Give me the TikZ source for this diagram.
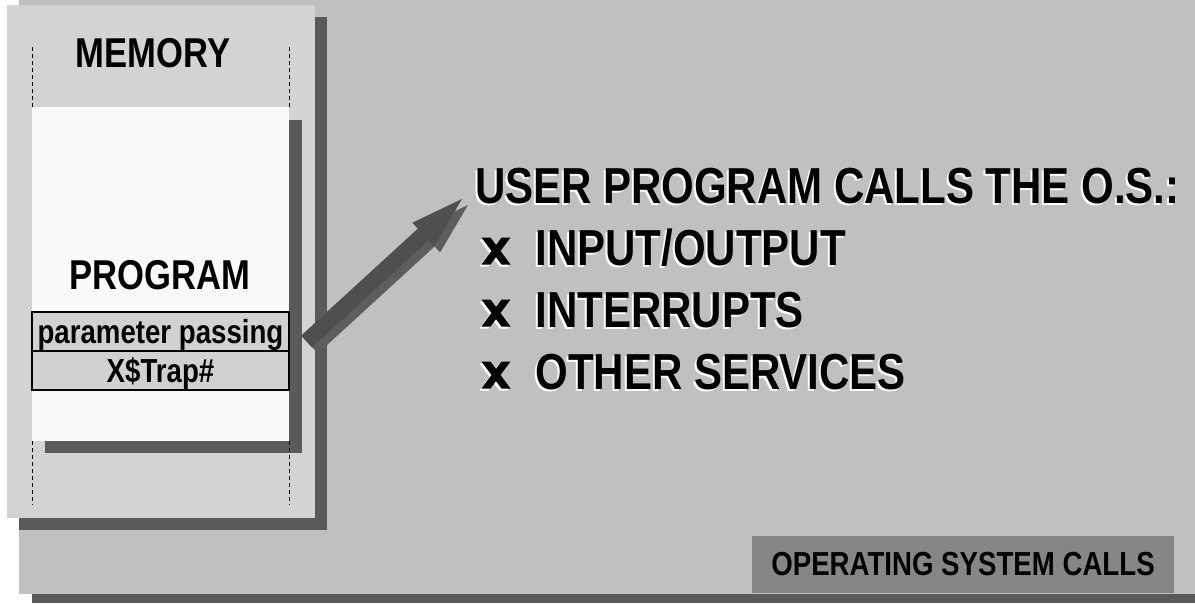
\documentclass[tikz,border=0pt]{standalone}
\usepackage{fontspec}
\setmainfont{Liberation Sans}
% narrow bold face for every label
\newfontfamily\narrow{Liberation Sans}[FakeStretch=0.83]
\usetikzlibrary{calc}

\definecolor{slidegray}{RGB}{192,192,192}
\definecolor{memgray}{RGB}{211,211,211}
\definecolor{shadowgray}{RGB}{90,90,90}
\definecolor{paper}{RGB}{250,250,250}
\definecolor{cellgray}{RGB}{209,209,209}
\definecolor{tabgray}{RGB}{134,134,134}
\definecolor{arrowface}{RGB}{79,79,79}
\definecolor{arrowside}{RGB}{93,93,93}

% text drawn twice: a white copy down-left, then the black one on top
\newcommand\raisedtext[3]{%
  \node[listitem,text=white] at ($#2+(-2,2)$) {#3};
  \node[listitem] (#1) at #2 {#3};}

\begin{document}
\begin{tikzpicture}[x=1pt,y=-1pt,
  panel/.style={inner sep=0pt, outer sep=0pt, anchor=north west},
  cell/.style={draw=black, line width=1.4pt, fill=cellgray,
    minimum width=257pt, minimum height=39pt,
    inner sep=0pt, outer sep=0pt, anchor=north west},
  headfont/.style={font=\narrow\bfseries\fontsize{41.7}{42}\selectfont},
  listfont/.style={font=\narrow\bfseries\fontsize{50.6}{51}\selectfont},
  smallfont/.style={font=\narrow\bfseries\fontsize{33.3}{34}\selectfont},
  lbl/.style={inner sep=0pt, outer sep=0pt, anchor=base},
  listitem/.style={listfont, inner sep=0pt, outer sep=0pt, anchor=base west},
  guide/.style={draw=black, line width=1.2pt, dash pattern=on 4pt off 3pt},
  pics/xmark/.style={code={
    \fill (-14.5,-13.5) -- (-5.5,-13.5) -- (0,-6.1) -- (5.5,-13.5)
      -- (14.5,-13.5) -- (4.5,0) -- (14.5,13.5) -- (5.5,13.5) -- (0,6.1)
      -- (-5.5,13.5) -- (-14.5,13.5) -- (-4.5,0) -- cycle;}}
]
\useasboundingbox (0,0) rectangle (1195,603);

% slide background with its shadow
\node[panel, fill=slidegray, minimum width=1176pt, minimum height=594pt] (slide) at (19,0) {};
\fill[shadowgray] (32,594) rectangle (1195,603);

% memory column
\node[panel, minimum width=308pt, minimum height=513pt] (mem) at (7,5) {};
\fill[shadowgray] ($(mem.north west)+(12,12)$) rectangle ($(mem.south east)+(12,12)$);
\fill[memgray] (mem.north west) rectangle (mem.south east);

% program area
\node[panel, minimum width=257pt, minimum height=334pt] (prog) at (32,107) {};
\fill[shadowgray] ($(prog.north west)+(13,13)$) rectangle ($(prog.south east)+(13,12)$);
\fill[paper] (prog.north west) rectangle (prog.south east);

% dashed bounds of the memory
\draw[guide] ($(prog.north west)+(0.5,0)$) -- ++(0,-62);
\draw[guide] ($(prog.north east)+(0.3,0)$) -- ++(0,-62);
\draw[guide] ($(prog.south west)+(0.5,0)$) -- ++(0,64);
\draw[guide] ($(prog.south east)+(0.3,0)$) -- ++(0,64);

% trap cells
\node[cell] (parm) at (32,312) {};
\node[cell] (trap) at (parm.south west) {};

\node[lbl, headfont] (memlbl) at (153,67.5) {MEMORY};
\node[lbl, headfont] (proglbl) at (160,289) {PROGRAM};
\node[lbl, smallfont] (parmtxt) at ($(parm.south)+(0,-8)$) {parameter passing};
\node[lbl, smallfont] (traptxt) at ($(trap.south)+(0,-7.5)$) {X\$Trap\#};

% list of services
\raisedtext{title}{(475,203)}{USER PROGRAM CALLS THE O.S.:}
\raisedtext{item1}{(535.5,265)}{INPUT/OUTPUT}
\raisedtext{item2}{(535.5,327)}{INTERRUPTS}
\raisedtext{item3}{(535.5,389)}{OTHER SERVICES}
\foreach \itm in {item1,item2,item3}{
  \pic[white] at ($(\itm.base west)+(-41.5,-12)$) {xmark};
  \pic at ($(\itm.base west)+(-39.5,-14)$) {xmark};
}

% block arrow from the trap cells to the list
\coordinate (atail) at ($(parm.south east)+(17.5,-9.5)$);
\coordinate (atip) at ($(title.base west)+(-13,-4)$);
\coordinate (atail2) at ($(atail)+(6,6)$);
\coordinate (atip2) at ($(atip)+(6,6)$);
\coordinate (ahead) at ($(atip)!52.6pt!(atail)$);
\coordinate (ahead2) at ($(atip2)!52.6pt!(atail2)$);
\fill[arrowside] ($(atail2)!8pt!90:(atip2)$) -- ($(ahead2)!8pt!90:(atip2)$)
  -- ($(ahead2)!16.1pt!90:(atip2)$) -- (atip2)
  -- ($(ahead2)!16.1pt!-90:(atip2)$) -- ($(ahead2)!8pt!-90:(atip2)$)
  -- ($(atail2)!8pt!-90:(atip2)$) -- cycle;
\fill[arrowface] ($(atail)!8pt!90:(atip)$) -- ($(ahead)!8pt!90:(atip)$)
  -- ($(ahead)!16.1pt!90:(atip)$) -- (atip)
  -- ($(ahead)!16.1pt!-90:(atip)$) -- ($(ahead)!8pt!-90:(atip)$)
  -- ($(atail)!8pt!-90:(atip)$) -- cycle;

% caption tab
\node[panel, fill=tabgray, minimum width=422pt, minimum height=57pt, smallfont] (oscalls) at (752,536) {OPERATING SYSTEM CALLS};
\end{tikzpicture}
\end{document}
